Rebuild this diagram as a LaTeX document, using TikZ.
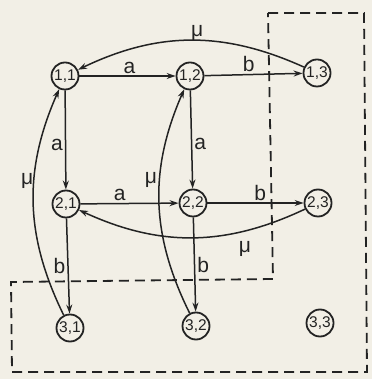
\documentclass[tikz,border=0pt]{standalone}
\usepackage{fontspec}
\setmainfont{Liberation Sans}
\usetikzlibrary{arrows.meta}
\definecolor{paper}{RGB}{242,239,230}
\definecolor{ink}{RGB}{35,35,35}
\begin{document}
\begin{tikzpicture}[x=1pt,y=1pt,
  st/.style={circle,draw=ink,line width=1.8pt,minimum size=27pt,inner sep=0pt,text=ink,font=\fontsize{15.5}{15.5}\selectfont},
  tr/.style={draw=ink,-{Stealth[length=9pt,width=6pt]},line width=1.5pt},
  lb/.style={text=ink,font=\fontsize{21}{21}\selectfont,inner sep=2pt},
  box/.style={draw=ink,line width=1.8pt,dash pattern=on 10pt off 6pt}]
\fill[paper] (0,0) rectangle (372,379);
\useasboundingbox (0,0) rectangle (372,379);
% dashed region
\draw[box] (268,366) -- (364,366) -- (367,7) -- (12,7) -- (11,97) -- (273,100) -- cycle;
% states
\node[st] (11) at (65,303) {1,1};
\node[st] (12) at (190,303) {1,2};
\node[st] (13) at (317,306) {1,3};
\node[st] (21) at (66,175) {2,1};
\node[st] (22) at (193,176) {2,2};
\node[st] (23) at (318,176) {2,3};
\node[st] (31) at (70,51) {3,1};
\node[st] (32) at (196,53) {3,2};
\node[st] (33) at (320,56) {3,3};
% transitions
\draw[tr] (11) -- node[lb,above,pos=0.52] {a} (12);
\draw[tr] (12) -- node[lb,above,pos=0.45] {b} (13);
\draw[tr] (21) -- node[lb,above,pos=0.4] {a} (22);
\draw[tr] (22) -- node[lb,above,pos=0.55] {b} (23);
\draw[tr] (11) -- node[lb,left,pos=0.55] {a} (21);
\draw[tr] (12) -- node[lb,right,pos=0.55] {a} (22);
\draw[tr] (21) -- node[lb,left,pos=0.5] {b} (31);
\draw[tr] (22) -- node[lb,right,pos=0.5] {b} (32);
\draw[tr] (13) to[bend right=25] node[lb,above,pos=0.47,yshift=-3pt] {μ} (11);
\draw[tr] (23) to[bend left=25] node[lb,below right,pos=0.3,yshift=-6pt] {μ} (21);
\draw[tr] (31) to[bend left=25] node[lb,left,pos=0.6,xshift=2pt] {μ} (11);
\draw[tr] (32) to[bend left=25] node[lb,left,pos=0.6] {μ} (12);
\end{tikzpicture}
\end{document}
